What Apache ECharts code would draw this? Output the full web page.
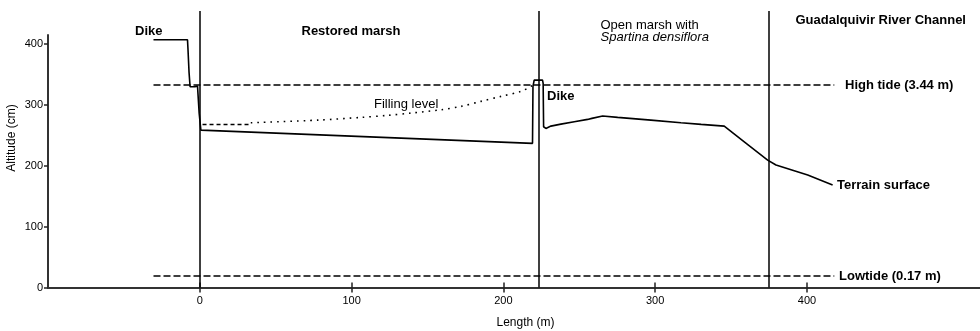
<!DOCTYPE html>
<html>
<head>
<meta charset="utf-8">
<script src="https://cdn.jsdelivr.net/npm/echarts@6/dist/echarts.min.js"></script>
<style>
html,body{margin:0;padding:0;background:#fff;}
#chart{width:980px;height:331px;}
</style>
</head>
<body>
<div id="chart"></div>
<script>
// ---- data ----
const xTickValues = [0, 100, 200, 300, 400];
const yTickValues = [0, 100, 200, 300, 400];

// terrain surface profile: length (m) / altitude (cm)
const terrainX = [-30.5, -8.1, -7.8, -7.1, -6.4, -3.3, -1.5, -0.6, -0.4, 0.7, 219.2, 219.5, 220.3, 225.8, 226.2, 226.5, 228.0, 231.3, 237.9, 246.7, 255.5, 258.3, 265.4, 275.3, 297.2, 317.0, 330.3, 345.5, 358.7, 374.1, 379.6, 400.5, 416.9];
const terrainY = [407.6, 407.6, 393.4, 354.9, 330.3, 330.3, 331.4, 333.1, 286.5, 259.0, 237.2, 331.0, 341.3, 341.3, 335.9, 264.5, 261.8, 265.6, 268.9, 272.7, 276.6, 278.3, 282.1, 279.9, 275.5, 271.1, 268.4, 265.6, 239.8, 209.7, 201.5, 185.0, 168.6];

// filling level (dashed start, dotted rest)
const fillDashX = [1.8, 33.6];
const fillDashY = [268.4, 268.4];
const fillDotX = [33.6, 78.4, 106.1, 123.7, 139.0, 158.8, 172.0, 185.2, 198.4, 211.5, 218.1, 220.1];
const fillDotY = [271.1, 275.5, 279.9, 283.2, 287.0, 292.4, 298.0, 306.3, 314.5, 322.7, 330.9, 334.7];

// tide levels (cm) and their drawn extent (m)
const highTide = 333.1;
const lowTide = 18.9;
const tideExtent = [-30.5, 418];

// zone boundaries (m)
const boundaries = [0, 223.6, 374.5];

// axis ranges
const xRange = [-100, 514];
const yMaxData = 455;
const yMaxAxis = 415;

const zip = (xs, ys) => xs.map((x, i) => [x, ys[i]]);
const FONT = '"Liberation Sans", Arial, sans-serif';

const chart = echarts.init(document.getElementById('chart'), null, {renderer: 'canvas'});

const option = {
  animation: false,
  backgroundColor: '#ffffff',
  grid: [
    {left: 48, right: 0, top: 11, bottom: 43.5},
    {left: 48, right: 0, top: 35, bottom: 43.5}
  ],
  xAxis: [
    {
      gridIndex: 0, type: 'value', min: xRange[0], max: xRange[1], interval: 100,
      axisLine: {show: true, onZero: false, lineStyle: {color: '#333', width: 2}},
      axisTick: {show: true, inside: false, length: 5, customValues: xTickValues, lineStyle: {color: '#222', width: 1.5}},
      axisLabel: {show: true, customValues: xTickValues, margin: 8, color: '#000', fontSize: 11, fontFamily: FONT},
      splitLine: {show: false}
    },
    {
      gridIndex: 1, type: 'value', min: xRange[0], max: xRange[1], interval: 100,
      axisLine: {show: false, onZero: false},
      axisTick: {show: true, inside: true, length: 5, customValues: xTickValues, lineStyle: {color: '#222', width: 1.5}},
      axisLabel: {show: false},
      splitLine: {show: false}
    }
  ],
  yAxis: [
    {
      gridIndex: 0, type: 'value', min: 0, max: yMaxData, show: false, splitLine: {show: false},
      axisLine: {onZero: false}
    },
    {
      gridIndex: 1, type: 'value', min: 0, max: yMaxAxis, interval: 100,
      axisLine: {show: true, onZero: false, lineStyle: {color: '#333', width: 2}},
      axisTick: {show: true, inside: false, length: 4, customValues: yTickValues, lineStyle: {color: '#222', width: 1.5}},
      axisLabel: {show: true, customValues: yTickValues, margin: 5, color: '#000', fontSize: 11, fontFamily: FONT},
      splitLine: {show: false}
    }
  ],
  series: [
    {
      name: 'Terrain surface', type: 'line', xAxisIndex: 0, yAxisIndex: 0,
      data: zip(terrainX, terrainY), symbol: 'none', silent: true,
      lineStyle: {color: '#000', width: 1.6},
      markLine: {
        silent: true, symbol: 'none', label: {show: false},
        lineStyle: {color: '#000', width: 1.5, type: 'solid'},
        data: boundaries.map(b => ({xAxis: b}))
      }
    },
    {
      name: 'Filling dashed', type: 'line', xAxisIndex: 0, yAxisIndex: 0,
      data: zip(fillDashX, fillDashY), symbol: 'none', silent: true,
      lineStyle: {color: '#000', width: 1.5, type: [4, 3]}
    },
    {
      name: 'Filling level', type: 'line', xAxisIndex: 0, yAxisIndex: 0,
      data: zip(fillDotX, fillDotY), symbol: 'none', silent: true, smooth: 0.3,
      lineStyle: {color: '#000', width: 1.6, type: [1.6, 5]}
    },
    {
      name: 'High tide', type: 'line', xAxisIndex: 0, yAxisIndex: 0,
      data: tideExtent.map(x => [x, highTide]), symbol: 'none', silent: true,
      lineStyle: {color: '#000', width: 1.5, type: [7, 3]}
    },
    {
      name: 'Low tide', type: 'line', xAxisIndex: 0, yAxisIndex: 0,
      data: tideExtent.map(x => [x, lowTide]), symbol: 'none', silent: true,
      lineStyle: {color: '#000', width: 1.5, type: [7, 3]}
    }
  ],
  graphic: [
    {type: 'text', x: 135, y: 31.5, style: {text: 'Dike', font: 'bold 13px ' + FONT, fill: '#000', verticalAlign: 'middle'}},
    {type: 'text', x: 301.5, y: 31.5, style: {text: 'Restored marsh', font: 'bold 13px ' + FONT, fill: '#000', verticalAlign: 'middle'}},
    {type: 'text', x: 600.5, y: 25, style: {text: 'Open marsh with', font: '13px ' + FONT, fill: '#000', verticalAlign: 'middle'}},
    {type: 'text', x: 600.5, y: 37.5, style: {text: 'Spartina densiflora', font: 'italic 13px ' + FONT, fill: '#000', verticalAlign: 'middle'}},
    {type: 'text', x: 795.5, y: 20.5, style: {text: 'Guadalquivir River Channel', font: 'bold 13px ' + FONT, fill: '#000', verticalAlign: 'middle'}},
    {type: 'text', x: 845, y: 85, style: {text: 'High tide (3.44 m)', font: 'bold 13px ' + FONT, fill: '#000', verticalAlign: 'middle'}},
    {type: 'text', x: 839, y: 276, style: {text: 'Lowtide (0.17 m)', font: 'bold 13px ' + FONT, fill: '#000', verticalAlign: 'middle'}},
    {type: 'text', x: 837, y: 185, style: {text: 'Terrain surface', font: 'bold 13px ' + FONT, fill: '#000', verticalAlign: 'middle'}},
    {type: 'text', x: 547, y: 96.5, style: {text: 'Dike', font: 'bold 13px ' + FONT, fill: '#000', verticalAlign: 'middle'}},
    {type: 'text', x: 374, y: 104.5, style: {text: 'Filling level', font: '13px ' + FONT, fill: '#000', verticalAlign: 'middle'}},
    {type: 'text', x: 525.5, y: 323, style: {text: 'Length (m)', font: '12px ' + FONT, fill: '#000', align: 'center', verticalAlign: 'middle'}},
    {type: 'text', x: 12, y: 138, rotation: Math.PI / 2, style: {text: 'Altitude (cm)', font: '12px ' + FONT, fill: '#000', align: 'center', verticalAlign: 'middle'}}
  ]
};

chart.setOption(option);
</script>
</body>
</html>
